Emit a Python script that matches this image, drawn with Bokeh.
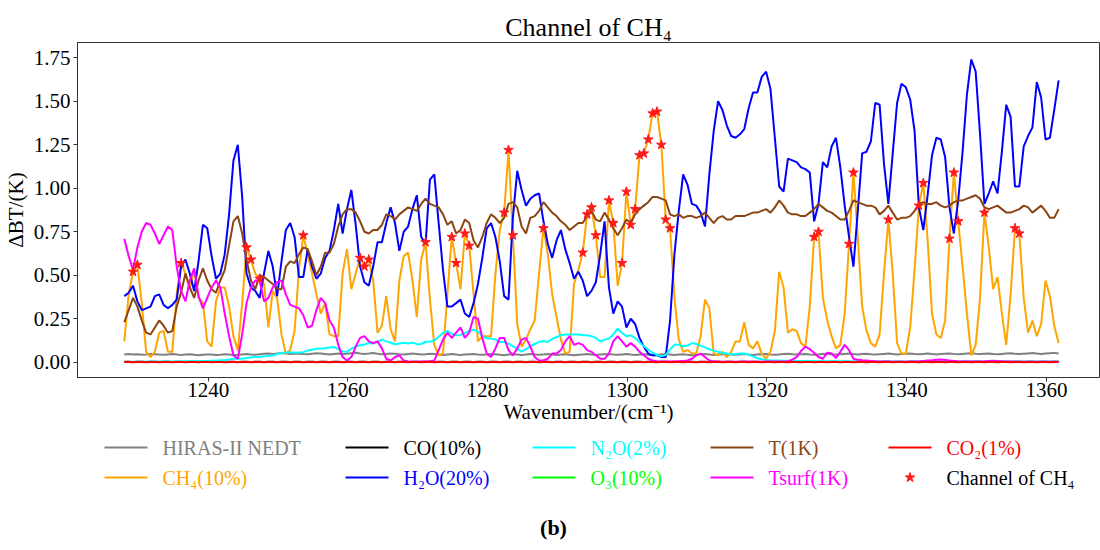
from bokeh.plotting import figure
from bokeh.layouts import column
from bokeh.models import Range1d, FixedTicker, PrintfTickFormatter, ColumnDataSource
from bokeh.core.properties import value
from bokeh.embed import file_html
from bokeh.resources import INLINE

# HIRAS-II channel grid (cm^-1)
channel_start = 1228.0
channel_step = 0.625
n_channels = 215
wavenumber = [channel_start + channel_step * i for i in range(n_channels)]

nedt = [
    0.045, 0.047, 0.044, 0.046, 0.043, 0.045, 0.048, 0.046, 0.044, 0.043,
    0.045, 0.047, 0.044, 0.042, 0.044, 0.046, 0.043, 0.041, 0.043, 0.045,
    0.044, 0.042, 0.043, 0.046, 0.044, 0.042, 0.043, 0.045, 0.047, 0.044,
    0.043, 0.046, 0.049, 0.051, 0.048, 0.050, 0.053, 0.050, 0.047, 0.049,
    0.051, 0.048, 0.046, 0.049, 0.052, 0.050, 0.047, 0.045, 0.048, 0.050,
    0.047, 0.049, 0.052, 0.055, 0.051, 0.048, 0.050, 0.053, 0.049, 0.046,
    0.048, 0.051, 0.049, 0.046, 0.045, 0.048, 0.050, 0.047, 0.044, 0.046,
    0.049, 0.047, 0.044, 0.042, 0.045, 0.047, 0.044, 0.042, 0.044, 0.046,
    0.048, 0.045, 0.043, 0.045, 0.048, 0.046, 0.043, 0.041, 0.044, 0.046,
    0.044, 0.042, 0.044, 0.047, 0.045, 0.043, 0.045, 0.047, 0.044, 0.042,
    0.044, 0.046, 0.043, 0.041, 0.043, 0.045, 0.047, 0.044, 0.042, 0.044,
    0.046, 0.048, 0.045, 0.043, 0.045, 0.047, 0.044, 0.042, 0.044, 0.046,
    0.043, 0.041, 0.043, 0.045, 0.047, 0.044, 0.042, 0.044, 0.046, 0.043,
    0.041, 0.043, 0.045, 0.047, 0.044, 0.042, 0.044, 0.046, 0.048, 0.045,
    0.043, 0.045, 0.047, 0.044, 0.042, 0.044, 0.046, 0.048, 0.045, 0.043,
    0.045, 0.047, 0.049, 0.046, 0.044, 0.046, 0.048, 0.045, 0.043, 0.045,
    0.047, 0.049, 0.046, 0.044, 0.046, 0.048, 0.050, 0.047, 0.045, 0.047,
    0.049, 0.046, 0.044, 0.046, 0.048, 0.050, 0.047, 0.045, 0.047, 0.049,
    0.051, 0.048, 0.046, 0.048, 0.050, 0.047, 0.045, 0.047, 0.049, 0.051,
    0.048, 0.046, 0.048, 0.050, 0.052, 0.049, 0.047, 0.049, 0.051, 0.048,
    0.046, 0.048, 0.050, 0.052, 0.049, 0.047, 0.049, 0.051, 0.053, 0.050,
    0.048, 0.050, 0.052, 0.054, 0.051,
]

ch4 = [
    0.12, 0.39, 0.52, 0.56, 0.34, 0.06, 0.03, 0.06, 0.17, 0.18,
    0.06, 0.06, 0.39, 0.57, 0.51, 0.42, 0.53, 0.37, 0.34, 0.12,
    0.09, 0.35, 0.43, 0.43, 0.32, 0.15, 0.07, 0.34, 0.66, 0.59,
    0.51, 0.48, 0.45, 0.20, 0.41, 0.37, 0.16, 0.05, 0.07, 0.18,
    0.53, 0.73, 0.62, 0.51, 0.39, 0.28, 0.34, 0.16, 0.15, 0.15,
    0.51, 0.65, 0.42, 0.51, 0.60, 0.55, 0.59, 0.47, 0.17, 0.21,
    0.38, 0.19, 0.12, 0.47, 0.61, 0.63, 0.47, 0.26, 0.59, 0.69,
    0.36, 0.10, 0.04, 0.05, 0.39, 0.72, 0.57, 0.42, 0.74, 0.67,
    0.39, 0.12, 0.15, 0.15, 0.15, 0.51, 0.76, 0.86, 1.22, 0.73,
    0.22, 0.09, 0.13, 0.19, 0.24, 0.51, 0.77, 0.62, 0.39, 0.26,
    0.13, 0.05, 0.06, 0.45, 0.53, 0.63, 0.85, 0.89, 0.73, 0.49,
    0.49, 0.93, 0.80, 0.44, 0.57, 0.98, 0.79, 0.88, 1.19, 1.20,
    1.28, 1.43, 1.44, 1.25, 0.82, 0.77, 0.37, 0.13, 0.06, 0.07,
    0.05, 0.05, 0.15, 0.36, 0.31, 0.05, 0.04, 0.06, 0.03, 0.06,
    0.12, 0.12, 0.23, 0.10, 0.08, 0.12, 0.05, 0.02, 0.06, 0.18,
    0.52, 0.43, 0.17, 0.19, 0.18, 0.11, 0.09, 0.32, 0.72, 0.75,
    0.37, 0.24, 0.15, 0.08, 0.10, 0.28, 0.68, 1.09, 0.72, 0.32,
    0.18, 0.11, 0.09, 0.16, 0.51, 0.82, 0.51, 0.11, 0.05, 0.05,
    0.20, 0.53, 0.90, 1.03, 0.70, 0.28, 0.16, 0.14, 0.24, 0.71,
    1.09, 0.81, 0.55, 0.28, 0.04, 0.10, 0.37, 0.86, 0.66, 0.42,
    0.49, 0.28, 0.10, 0.39, 0.77, 0.74, 0.37, 0.17, 0.24, 0.15,
    0.22, 0.47, 0.38, 0.21, 0.11,
]

co = [
    0.003, 0.003, 0.002, 0.003, 0.003, 0.002, 0.003, 0.003, 0.002, 0.003,
    0.003, 0.002, 0.003, 0.003, 0.002, 0.003, 0.003, 0.002, 0.003, 0.003,
    0.002, 0.003, 0.003, 0.002, 0.003, 0.003, 0.002, 0.003, 0.003, 0.002,
    0.003, 0.003, 0.002, 0.003, 0.003, 0.002, 0.003, 0.003, 0.002, 0.003,
    0.003, 0.002, 0.003, 0.003, 0.002, 0.003, 0.003, 0.002, 0.003, 0.003,
    0.002, 0.003, 0.003, 0.002, 0.003, 0.003, 0.002, 0.003, 0.003, 0.002,
    0.003, 0.003, 0.002, 0.003, 0.003, 0.002, 0.003, 0.003, 0.002, 0.003,
    0.003, 0.002, 0.003, 0.003, 0.002, 0.003, 0.003, 0.002, 0.003, 0.003,
    0.002, 0.003, 0.003, 0.002, 0.003, 0.003, 0.002, 0.003, 0.003, 0.002,
    0.003, 0.003, 0.002, 0.003, 0.003, 0.002, 0.003, 0.003, 0.002, 0.003,
    0.003, 0.002, 0.003, 0.003, 0.002, 0.003, 0.003, 0.002, 0.003, 0.003,
    0.002, 0.003, 0.003, 0.002, 0.003, 0.003, 0.002, 0.003, 0.003, 0.002,
    0.003, 0.003, 0.002, 0.003, 0.003, 0.002, 0.003, 0.003, 0.002, 0.003,
    0.003, 0.002, 0.003, 0.003, 0.002, 0.003, 0.003, 0.002, 0.003, 0.003,
    0.002, 0.003, 0.003, 0.002, 0.003, 0.003, 0.002, 0.003, 0.003, 0.002,
    0.003, 0.003, 0.002, 0.003, 0.003, 0.002, 0.003, 0.003, 0.002, 0.003,
    0.003, 0.002, 0.003, 0.003, 0.002, 0.003, 0.003, 0.002, 0.003, 0.003,
    0.002, 0.003, 0.003, 0.002, 0.003, 0.003, 0.002, 0.003, 0.003, 0.002,
    0.003, 0.003, 0.002, 0.003, 0.003, 0.002, 0.003, 0.003, 0.002, 0.003,
    0.003, 0.002, 0.003, 0.003, 0.002, 0.003, 0.003, 0.002, 0.003, 0.003,
    0.002, 0.003, 0.003, 0.002, 0.003, 0.003, 0.002, 0.003, 0.003, 0.002,
    0.003, 0.003, 0.002, 0.003, 0.003,
]

h2o = [
    0.38, 0.40, 0.44, 0.35, 0.30, 0.31, 0.32, 0.38, 0.39, 0.33,
    0.31, 0.33, 0.36, 0.55, 0.59, 0.51, 0.41, 0.58, 0.79, 0.77,
    0.61, 0.48, 0.51, 0.62, 0.85, 1.16, 1.25, 0.95, 0.51, 0.43,
    0.41, 0.37, 0.51, 0.64, 0.55, 0.38, 0.58, 0.76, 0.80, 0.72,
    0.49, 0.49, 0.65, 0.55, 0.48, 0.51, 0.60, 0.64, 0.76, 0.91,
    0.74, 0.88, 0.99, 0.79, 0.55, 0.46, 0.44, 0.55, 0.69, 0.69,
    0.80, 0.89, 0.80, 0.64, 0.75, 0.78, 0.88, 0.96, 0.72, 0.68,
    1.05, 1.08, 0.80, 0.53, 0.32, 0.32, 0.34, 0.36, 0.28, 0.26,
    0.34, 0.45, 0.60, 0.77, 0.80, 0.72, 0.58, 0.38, 0.36, 0.83,
    1.10, 0.99, 0.90, 0.94, 0.96, 0.97, 0.81, 0.68, 0.60, 0.70,
    0.76, 0.65, 0.57, 0.48, 0.52, 0.47, 0.38, 0.41, 0.46, 0.62,
    0.81, 0.43, 0.28, 0.35, 0.32, 0.20, 0.25, 0.22, 0.14, 0.09,
    0.05, 0.04, 0.04, 0.03, 0.03, 0.24, 0.62, 0.87, 1.08, 1.02,
    0.91, 0.90, 0.86, 0.78, 1.08, 1.33, 1.50, 1.45, 1.36, 1.30,
    1.29, 1.31, 1.34, 1.46, 1.55, 1.55, 1.64, 1.67, 1.57, 1.29,
    1.01, 0.98, 1.17, 1.16, 1.15, 1.12, 1.11, 1.09, 0.81, 0.91,
    1.15, 1.12, 1.24, 1.29, 1.12, 0.90, 0.72, 0.55, 0.87, 1.20,
    1.21, 1.27, 1.49, 1.48, 1.14, 0.91, 1.20, 1.49, 1.60, 1.58,
    1.51, 1.33, 0.89, 0.76, 0.96, 1.19, 1.29, 1.28, 1.18, 0.89,
    0.74, 0.93, 1.21, 1.54, 1.74, 1.67, 1.31, 0.91, 0.97, 1.04,
    0.97, 1.21, 1.48, 1.41, 1.01, 1.01, 1.24, 1.30, 1.35, 1.61,
    1.52, 1.28, 1.29, 1.45, 1.62,
]

n2o = [
    0.002, 0.002, 0.003, 0.003, 0.003, 0.003, 0.004, 0.004, 0.004, 0.004,
    0.005, 0.005, 0.005, 0.005, 0.006, 0.006, 0.006, 0.007, 0.007, 0.008,
    0.009, 0.010, 0.011, 0.013, 0.016, 0.020, 0.022, 0.020, 0.024, 0.028,
    0.030, 0.032, 0.034, 0.036, 0.040, 0.046, 0.054, 0.056, 0.058, 0.055,
    0.056, 0.058, 0.068, 0.072, 0.078, 0.079, 0.080, 0.085, 0.088, 0.075,
    0.062, 0.060, 0.078, 0.090, 0.098, 0.102, 0.110, 0.108, 0.118, 0.130,
    0.120, 0.112, 0.104, 0.108, 0.112, 0.108, 0.113, 0.104, 0.105, 0.118,
    0.118, 0.126, 0.145, 0.170, 0.180, 0.165, 0.155, 0.157, 0.168, 0.180,
    0.187, 0.176, 0.150, 0.138, 0.136, 0.130, 0.117, 0.117, 0.107, 0.092,
    0.078, 0.061, 0.076, 0.092, 0.105, 0.117, 0.122, 0.117, 0.134, 0.145,
    0.155, 0.160, 0.160, 0.160, 0.160, 0.155, 0.155, 0.150, 0.140, 0.120,
    0.130, 0.136, 0.160, 0.193, 0.168, 0.150, 0.155, 0.140, 0.115, 0.092,
    0.073, 0.055, 0.042, 0.034, 0.042, 0.073, 0.100, 0.100, 0.092, 0.096,
    0.110, 0.105, 0.094, 0.086, 0.075, 0.067, 0.061, 0.055, 0.050, 0.046,
    0.046, 0.050, 0.050, 0.044, 0.034, 0.023, 0.017, 0.013, 0.011, 0.010,
    0.010, 0.009, 0.009, 0.008, 0.008, 0.008, 0.008, 0.007, 0.007, 0.006,
    0.006, 0.006, 0.006, 0.006, 0.006, 0.006, 0.006, 0.006, 0.006, 0.006,
    0.006, 0.006, 0.006, 0.005, 0.005, 0.005, 0.005, 0.005, 0.005, 0.005,
    0.005, 0.005, 0.005, 0.005, 0.005, 0.005, 0.005, 0.005, 0.005, 0.005,
    0.005, 0.005, 0.005, 0.005, 0.005, 0.005, 0.005, 0.005, 0.005, 0.005,
    0.005, 0.005, 0.005, 0.005, 0.005, 0.005, 0.005, 0.005, 0.005, 0.005,
    0.005, 0.005, 0.005, 0.005, 0.005,
]

o3 = [
    0.002, 0.001, 0.002, 0.002, 0.001, 0.002, 0.002, 0.001, 0.002, 0.002,
    0.001, 0.002, 0.002, 0.001, 0.002, 0.002, 0.001, 0.002, 0.002, 0.001,
    0.002, 0.002, 0.001, 0.002, 0.002, 0.001, 0.002, 0.002, 0.001, 0.002,
    0.002, 0.001, 0.002, 0.002, 0.001, 0.002, 0.002, 0.001, 0.002, 0.002,
    0.001, 0.002, 0.002, 0.001, 0.002, 0.002, 0.001, 0.002, 0.002, 0.001,
    0.002, 0.002, 0.001, 0.002, 0.002, 0.001, 0.002, 0.002, 0.001, 0.002,
    0.002, 0.001, 0.002, 0.002, 0.001, 0.002, 0.002, 0.001, 0.002, 0.002,
    0.001, 0.002, 0.002, 0.001, 0.002, 0.002, 0.001, 0.002, 0.002, 0.001,
    0.002, 0.002, 0.001, 0.002, 0.002, 0.001, 0.002, 0.002, 0.001, 0.002,
    0.002, 0.001, 0.002, 0.002, 0.001, 0.002, 0.002, 0.001, 0.002, 0.002,
    0.001, 0.002, 0.002, 0.001, 0.002, 0.002, 0.001, 0.002, 0.002, 0.001,
    0.002, 0.002, 0.001, 0.002, 0.002, 0.001, 0.002, 0.002, 0.001, 0.002,
    0.002, 0.001, 0.002, 0.002, 0.001, 0.002, 0.002, 0.001, 0.002, 0.002,
    0.001, 0.002, 0.002, 0.001, 0.002, 0.002, 0.001, 0.002, 0.002, 0.001,
    0.002, 0.002, 0.001, 0.002, 0.002, 0.001, 0.002, 0.002, 0.001, 0.002,
    0.002, 0.001, 0.002, 0.002, 0.001, 0.002, 0.002, 0.001, 0.002, 0.002,
    0.001, 0.002, 0.002, 0.001, 0.002, 0.002, 0.001, 0.002, 0.002, 0.001,
    0.002, 0.002, 0.001, 0.002, 0.002, 0.001, 0.002, 0.002, 0.001, 0.002,
    0.002, 0.001, 0.002, 0.002, 0.001, 0.002, 0.002, 0.001, 0.002, 0.002,
    0.001, 0.002, 0.002, 0.001, 0.002, 0.002, 0.001, 0.002, 0.002, 0.001,
    0.002, 0.002, 0.001, 0.002, 0.002, 0.001, 0.002, 0.002, 0.001, 0.002,
    0.002, 0.001, 0.002, 0.002, 0.001,
]

temp = [
    0.23, 0.30, 0.37, 0.32, 0.24, 0.17, 0.16, 0.20, 0.24, 0.21,
    0.17, 0.18, 0.32, 0.40, 0.51, 0.43, 0.37, 0.47, 0.54, 0.47,
    0.42, 0.40, 0.47, 0.53, 0.67, 0.81, 0.84, 0.74, 0.59, 0.47,
    0.42, 0.50, 0.49, 0.47, 0.45, 0.42, 0.42, 0.55, 0.58, 0.57,
    0.62, 0.66, 0.65, 0.58, 0.50, 0.55, 0.63, 0.63, 0.68, 0.78,
    0.85, 0.88, 0.88, 0.86, 0.81, 0.75, 0.74, 0.76, 0.76, 0.79,
    0.85, 0.84, 0.82, 0.85, 0.87, 0.89, 0.88, 0.87, 0.91, 0.94,
    0.91, 0.90, 0.89, 0.85, 0.79, 0.81, 0.74, 0.76, 0.82, 0.80,
    0.70, 0.66, 0.72, 0.80, 0.85, 0.83, 0.80, 0.83, 0.91, 0.92,
    0.89, 0.78, 0.74, 0.83, 0.84, 0.87, 0.92, 0.89, 0.86, 0.84,
    0.81, 0.79, 0.76, 0.78, 0.80, 0.80, 0.84, 0.87, 0.82, 0.81,
    0.86, 0.82, 0.77, 0.73, 0.77, 0.82, 0.80, 0.85, 0.88, 0.90,
    0.92, 0.95, 0.95, 0.94, 0.93, 0.85, 0.84, 0.85, 0.83, 0.84,
    0.84, 0.83, 0.84, 0.86, 0.83, 0.80, 0.83, 0.84, 0.82, 0.82,
    0.84, 0.84, 0.84, 0.85, 0.86, 0.86, 0.87, 0.88, 0.86, 0.89,
    0.93, 0.90, 0.86, 0.85, 0.85, 0.84, 0.84, 0.86, 0.88, 0.91,
    0.89, 0.87, 0.86, 0.84, 0.82, 0.82, 0.87, 0.93, 0.92, 0.91,
    0.90, 0.90, 0.89, 0.85, 0.87, 0.90, 0.86, 0.82, 0.83, 0.83,
    0.84, 0.87, 0.91, 0.92, 0.91, 0.91, 0.92, 0.90, 0.89, 0.90,
    0.92, 0.93, 0.93, 0.94, 0.95, 0.96, 0.94, 0.89, 0.88, 0.89,
    0.90, 0.88, 0.86, 0.86, 0.87, 0.88, 0.90, 0.89, 0.86, 0.88,
    0.90, 0.87, 0.83, 0.83, 0.88,
]

tsurf = [
    0.71, 0.61, 0.53, 0.66, 0.75, 0.80, 0.79, 0.74, 0.68, 0.73,
    0.78, 0.76, 0.55, 0.41, 0.35, 0.47, 0.54, 0.38, 0.31, 0.37,
    0.43, 0.47, 0.43, 0.28, 0.15, 0.04, 0.02, 0.16, 0.34, 0.43,
    0.47, 0.47, 0.35, 0.37, 0.43, 0.46, 0.47, 0.39, 0.33, 0.32,
    0.31, 0.27, 0.20, 0.21, 0.30, 0.37, 0.34, 0.24, 0.20, 0.10,
    0.03, 0.01, 0.03, 0.09, 0.14, 0.15, 0.12, 0.11, 0.12, 0.08,
    0.02, 0.01, 0.03, 0.04, 0.01, 0.005, 0.003, 0.003, 0.004, 0.005,
    0.006, 0.01, 0.07, 0.13, 0.17, 0.14, 0.17, 0.20, 0.14, 0.17,
    0.26, 0.25, 0.14, 0.05, 0.03, 0.08, 0.14, 0.14, 0.07, 0.04,
    0.08, 0.13, 0.14, 0.09, 0.03, 0.01, 0.01, 0.02, 0.05, 0.05,
    0.07, 0.12, 0.15, 0.10, 0.11, 0.10, 0.07, 0.06, 0.04, 0.02,
    0.02, 0.05, 0.12, 0.15, 0.12, 0.09, 0.11, 0.09, 0.06, 0.04,
    0.02, 0.01, 0.006, 0.005, 0.004, 0.004, 0.005, 0.006, 0.008, 0.01,
    0.02, 0.04, 0.05, 0.03, 0.01, 0.005, 0.004, 0.003, 0.003, 0.003,
    0.003, 0.003, 0.004, 0.004, 0.003, 0.003, 0.003, 0.004, 0.004, 0.005,
    0.005, 0.004, 0.006, 0.015, 0.03, 0.065, 0.09, 0.075, 0.055, 0.03,
    0.02, 0.055, 0.05, 0.025, 0.06, 0.10, 0.07, 0.02, 0.015, 0.012,
    0.01, 0.008, 0.006, 0.005, 0.004, 0.004, 0.003, 0.003, 0.003, 0.003,
    0.004, 0.005, 0.006, 0.008, 0.01, 0.012, 0.015, 0.016, 0.013, 0.01,
    0.008, 0.006, 0.005, 0.004, 0.004, 0.004, 0.005, 0.006, 0.008, 0.009,
    0.008, 0.006, 0.005, 0.004, 0.003, 0.003, 0.003, 0.003, 0.003, 0.003,
    0.003, 0.003, 0.003, 0.003, 0.003,
]

co2 = [
    0.001, 0.001, 0.000, 0.001, 0.001, 0.000, 0.001, 0.001, 0.000, 0.001,
    0.001, 0.000, 0.001, 0.001, 0.000, 0.001, 0.001, 0.000, 0.001, 0.001,
    0.000, 0.001, 0.001, 0.000, 0.001, 0.001, 0.000, 0.001, 0.001, 0.000,
    0.001, 0.001, 0.000, 0.001, 0.001, 0.000, 0.001, 0.001, 0.000, 0.001,
    0.001, 0.000, 0.001, 0.001, 0.000, 0.001, 0.001, 0.000, 0.001, 0.001,
    0.000, 0.001, 0.001, 0.000, 0.001, 0.001, 0.000, 0.001, 0.001, 0.000,
    0.001, 0.001, 0.000, 0.001, 0.001, 0.000, 0.001, 0.001, 0.000, 0.001,
    0.001, 0.000, 0.001, 0.001, 0.000, 0.001, 0.001, 0.000, 0.001, 0.001,
    0.000, 0.001, 0.001, 0.000, 0.001, 0.001, 0.000, 0.001, 0.001, 0.000,
    0.001, 0.001, 0.000, 0.001, 0.001, 0.000, 0.001, 0.001, 0.000, 0.001,
    0.001, 0.000, 0.001, 0.001, 0.000, 0.001, 0.001, 0.000, 0.001, 0.001,
    0.000, 0.001, 0.001, 0.000, 0.001, 0.001, 0.000, 0.001, 0.001, 0.000,
    0.001, 0.001, 0.000, 0.001, 0.001, 0.000, 0.001, 0.001, 0.000, 0.001,
    0.001, 0.000, 0.001, 0.001, 0.000, 0.001, 0.001, 0.000, 0.001, 0.001,
    0.000, 0.001, 0.001, 0.000, 0.001, 0.001, 0.000, 0.001, 0.001, 0.000,
    0.001, 0.001, 0.000, 0.001, 0.001, 0.000, 0.001, 0.001, 0.000, 0.001,
    0.001, 0.000, 0.001, 0.001, 0.000, 0.001, 0.001, 0.000, 0.001, 0.001,
    0.000, 0.001, 0.001, 0.000, 0.001, 0.001, 0.000, 0.001, 0.001, 0.000,
    0.001, 0.001, 0.000, 0.001, 0.001, 0.000, 0.001, 0.001, 0.000, 0.001,
    0.001, 0.000, 0.001, 0.001, 0.000, 0.001, 0.001, 0.000, 0.001, 0.001,
    0.000, 0.001, 0.001, 0.000, 0.001, 0.001, 0.000, 0.001, 0.001, 0.000,
    0.001, 0.001, 0.000, 0.001, 0.001,
]

# indices of the channels selected for CH4 retrieval
ch4_channels = [
    2, 3, 13, 28, 29, 31, 41,
    54, 55, 56, 69, 75, 76, 78, 79, 87, 88, 89, 96,
    105, 106, 107, 108, 111, 112, 114, 115, 116, 117, 118, 119, 120,
    121, 122, 123, 124, 125,
    158, 159, 166, 167, 175, 182, 183, 189, 190, 191, 197, 204, 205,
]

x_ticks = [1240, 1260, 1280, 1300, 1320, 1340, 1360]
y_ticks = [0.0, 0.25, 0.5, 0.75, 1.0, 1.25, 1.5, 1.75]

series = [
    ("HIRAS-II NEDT", nedt, "#808080"),
    ("CH\u2084(10%)", ch4, "#ffa500"),
    ("CO(10%)", co, "#000000"),
    ("H\u2082O(20%)", h2o, "#0000ff"),
    ("N\u2082O(2%)", n2o, "#00ffff"),
    ("O\u2083(10%)", o3, "#00ff00"),
    ("T(1K)", temp, "#8b4513"),
    ("Tsurf(1K)", tsurf, "#ff00ff"),
    ("CO\u2082(1%)", co2, "#ff0000"),
]
for _, vals, _c in series:
    assert len(vals) == n_channels

SERIF = "Liberation Serif"
FRAME_LEFT, FRAME_RIGHT = 77, 1099

p = figure(
    width=1100, height=435,
    x_range=Range1d(1221.3, 1367.6), y_range=Range1d(-0.0875, 1.8375),
    output_backend="svg", toolbar_location=None,
    min_border_left=FRAME_LEFT, min_border_right=1100 - FRAME_RIGHT,
    min_border_top=42, min_border_bottom=58,
)
p.title.text = "Channel of CH\u2084"
p.title.align = "center"
p.title.text_font = SERIF
p.title.text_font_size = "26px"
p.title.text_font_style = "normal"
p.title.text_color = "#000000"
p.title.standoff = 1

p.grid.visible = False
p.outline_line_color = "#333333"
p.outline_line_width = 1

p.xaxis.ticker = FixedTicker(ticks=x_ticks)
p.yaxis.ticker = FixedTicker(ticks=y_ticks)
p.yaxis.formatter = PrintfTickFormatter(format="%.2f")
p.xaxis.axis_label = "Wavenumber/(cm\u207b\u00b9)"
p.yaxis.axis_label = "\u0394BT/(K)"
for ax in (p.xaxis, p.yaxis):
    ax.minor_tick_line_color = None
    ax.major_tick_in = 0
    ax.major_tick_out = 4
    ax.axis_line_color = "#333333"
    ax.major_tick_line_color = "#333333"
    ax.major_label_text_font = SERIF
    ax.major_label_text_font_size = "21px"
    ax.major_label_text_color = "#000000"
    ax.axis_label_text_font = SERIF
    ax.axis_label_text_font_size = "21px"
    ax.axis_label_text_font_style = "normal"
    ax.axis_label_text_color = "#000000"
p.xaxis.major_label_standoff = 1
p.xaxis.axis_label_standoff = 0
p.yaxis.major_label_standoff = 3
p.yaxis.axis_label_standoff = 3

for name, vals, color in series:
    p.line(wavenumber, vals, line_color=color, line_width=2)

star_x = [wavenumber[i] for i in ch4_channels]
star_y = [ch4[i] for i in ch4_channels]
p.scatter(star_x, star_y, marker="star", size=10,
          fill_color="#ff1a1a", line_color="#ff1a1a")

# legend panel, drawn in page pixel coordinates (its frame lines up with the plot frame)
leg_h = 115
q = figure(
    width=1100, height=leg_h,
    x_range=Range1d(FRAME_LEFT, FRAME_RIGHT), y_range=Range1d(leg_h, 0),
    output_backend="svg", toolbar_location=None,
    x_axis_type=None, y_axis_type=None,
    min_border_left=FRAME_LEFT, min_border_right=1100 - FRAME_RIGHT,
    min_border_top=0, min_border_bottom=0,
)
q.grid.visible = False
q.outline_line_color = None

col_x = [104, 345, 532, 710, 888]
row_y = [12, 42]
handle_len = 43
text_gap = 58
layout_order = [
    [0, 2, 4, 6, 8],
    [1, 3, 5, 7, None],
]
seg = dict(x0=[], x1=[], y=[], color=[])
txt = dict(x=[], y=[], text=[], color=[])
for r, row in enumerate(layout_order):
    for c, k in enumerate(row):
        if k is None:
            continue
        name, _v, color = series[k]
        seg["x0"].append(col_x[c])
        seg["x1"].append(col_x[c] + handle_len)
        seg["y"].append(row_y[r])
        seg["color"].append(color)
        txt["x"].append(col_x[c] + text_gap)
        txt["y"].append(row_y[r])
        txt["text"].append(name)
        txt["color"].append("#000000" if name.startswith("CO(") else color)
txt["x"].append(col_x[4] + text_gap)
txt["y"].append(row_y[1])
txt["text"].append("Channel of CH\u2084")
txt["color"].append("#000000")

q.segment(x0="x0", y0="y", x1="x1", y1="y", line_color="color", line_width=2,
          source=ColumnDataSource(seg))
q.scatter([col_x[4] + handle_len / 2], [row_y[1]], marker="star", size=10,
          fill_color="#ff1a1a", line_color="#ff1a1a")
q.text(x="x", y="y", text="text", text_color="color", source=ColumnDataSource(txt),
       text_baseline="middle", text_align="left",
       text_font=value(SERIF), text_font_size=value("20px"))
q.text(x=[553], y=[92], text=["(b)"], text_baseline="middle", text_align="center",
       text_font=value(SERIF), text_font_size=value("22px"), text_font_style="bold",
       text_color="#000000")

layout = column(p, q)
open("out.html", "w").write(file_html(layout, INLINE))
